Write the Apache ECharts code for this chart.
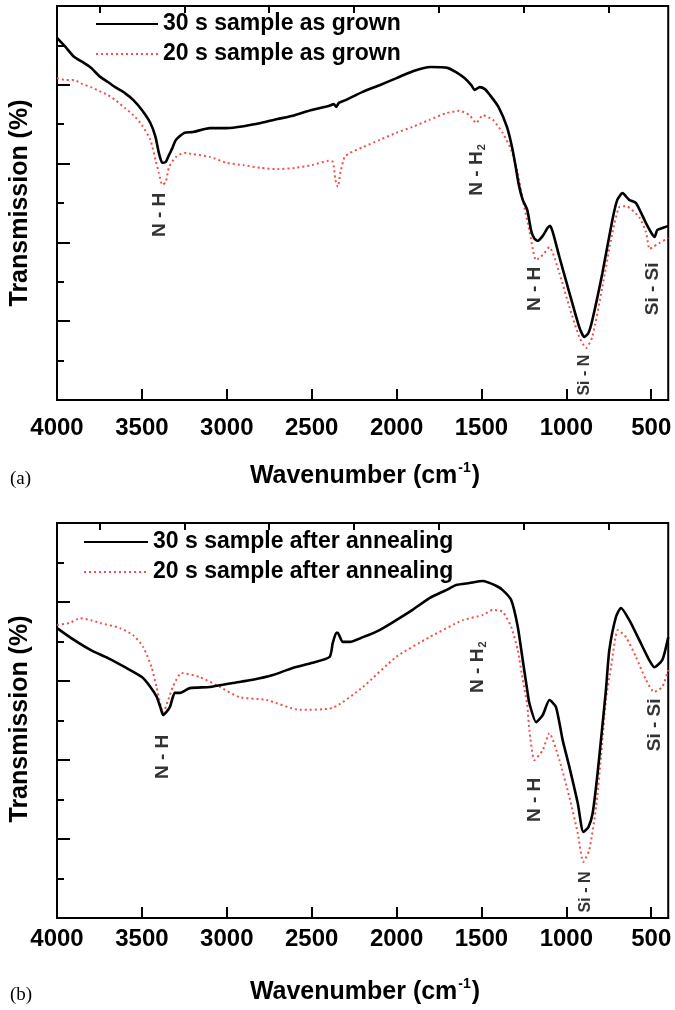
<!DOCTYPE html>
<html>
<head>
<meta charset="utf-8">
<script src="https://cdn.jsdelivr.net/npm/echarts@6/dist/echarts.min.js"></script>
<style>
  html, body { margin: 0; padding: 0; background: #fff; }
  #chart { width: 675px; height: 1010px; }
</style>
</head>
<body>
<div id="chart"></div>
<script>
// FTIR transmission spectra, [wavenumber (cm-1), transmission (a.u. on 0-100 scale)]
const grown30 = [
  [4000, 91.9], [3950, 89.6], [3900, 87.1], [3850, 85.8], [3800, 84.3], [3750, 82.2],
  [3700, 80.7], [3650, 79.2], [3600, 77.9], [3550, 76.1], [3500, 73.6], [3450, 70.3],
  [3420, 66.8], [3400, 62.7], [3380, 60.2], [3360, 60.4], [3340, 62.2], [3320, 64.0],
  [3300, 66.0], [3250, 67.8], [3200, 68.0], [3100, 69.0], [3000, 69.0], [2900, 69.5],
  [2800, 70.3], [2700, 71.3], [2600, 72.3], [2500, 73.6], [2400, 74.6], [2370, 75.1],
  [2355, 74.4], [2340, 75.4], [2300, 76.1], [2200, 78.2], [2100, 79.9], [2000, 81.7],
  [1900, 83.5], [1800, 84.5], [1700, 84.3], [1650, 83.2], [1600, 81.7], [1560, 79.9],
  [1540, 78.7], [1510, 79.4], [1480, 78.9], [1450, 77.4], [1400, 74.4], [1350, 69.3],
  [1320, 64.2], [1300, 59.6], [1280, 54.6], [1257, 50.8], [1230, 48.2], [1208, 43.1],
  [1190, 41.1], [1170, 40.4], [1140, 41.6], [1110, 43.7], [1096, 44.2], [1080, 42.6],
  [1041, 36.3], [982, 27.2], [924, 18.5], [894, 16.0], [870, 17.0], [847, 20.3],
  [788, 32.2], [729, 45.7], [700, 50.8], [669, 52.5], [630, 50.8], [590, 50.0],
  [531, 44.9], [492, 41.9], [480, 41.4], [465, 43.1], [430, 43.7], [400, 44.2]
];
const grown20 = [
  [4000, 81.7], [3950, 81.2], [3900, 81.2], [3850, 80.2], [3800, 79.4], [3750, 78.4],
  [3700, 77.4], [3650, 75.9], [3600, 74.1], [3550, 72.3], [3500, 69.8], [3450, 66.0],
  [3420, 60.9], [3400, 57.6], [3380, 54.6], [3360, 55.3], [3340, 59.1], [3300, 61.7],
  [3250, 62.7], [3200, 62.4], [3100, 61.7], [3000, 60.2], [2900, 59.6], [2800, 58.9],
  [2700, 58.6], [2600, 58.9], [2500, 59.6], [2400, 60.7], [2375, 60.4], [2360, 55.8],
  [2346, 54.1], [2330, 57.9], [2306, 61.7], [2276, 62.7], [2198, 64.2], [2100, 66.0],
  [2002, 67.8], [1906, 69.3], [1806, 71.1], [1708, 72.8], [1629, 73.4], [1571, 72.3],
  [1531, 70.3], [1492, 72.3], [1433, 71.1], [1375, 67.8], [1325, 63.5], [1286, 57.6],
  [1257, 50.8], [1218, 43.1], [1178, 35.5], [1139, 36.8], [1100, 38.8], [1041, 32.2],
  [982, 23.6], [924, 16.0], [884, 13.2], [847, 16.0], [788, 28.7], [729, 42.4],
  [688, 49.0], [649, 49.2], [571, 46.4], [531, 42.6], [510, 38.3], [492, 38.8],
  [453, 39.8], [400, 41.1]
];
const annealed30 = [
  [4000, 73.4], [3900, 70.4], [3800, 67.8], [3700, 65.8], [3600, 63.5], [3500, 61.0],
  [3450, 58.5], [3413, 56.0], [3390, 53.2], [3375, 51.4], [3355, 52.2], [3335, 53.4],
  [3306, 57.0], [3276, 57.0], [3218, 58.2], [3100, 58.5], [2965, 59.5], [2847, 60.3],
  [2729, 61.5], [2612, 63.3], [2494, 64.6], [2394, 66.1], [2376, 69.6], [2355, 72.2],
  [2347, 72.2], [2317, 69.9], [2276, 69.9], [2198, 71.1], [2100, 72.9], [2002, 75.4],
  [1906, 78.0], [1806, 81.0], [1708, 83.0], [1649, 84.3], [1571, 84.8], [1492, 85.3],
  [1414, 84.1], [1375, 83.0], [1325, 80.5], [1286, 73.7], [1257, 65.3], [1228, 57.0],
  [1218, 54.4], [1178, 49.6], [1139, 51.4], [1100, 55.2], [1061, 53.4], [1022, 45.1],
  [982, 38.2], [933, 29.1], [900, 21.8], [870, 23.0], [845, 26.6], [816, 36.7],
  [786, 49.4], [767, 57.7], [747, 67.8], [708, 76.2], [678, 78.5], [629, 75.4],
  [571, 70.4], [512, 65.3], [482, 63.5], [435, 65.3], [400, 71.1]
];
const annealed20 = [
  [4000, 74.2], [3924, 74.7], [3865, 75.9], [3800, 75.4], [3747, 74.7], [3629, 73.4],
  [3551, 71.6], [3492, 68.6], [3443, 63.5], [3414, 58.5], [3390, 53.9], [3375, 51.9],
  [3345, 55.2], [3318, 58.5], [3267, 62.0], [3159, 61.0], [3041, 58.5], [2924, 55.9],
  [2767, 55.2], [2571, 52.7], [2376, 53.2], [2198, 58.5], [2002, 66.1], [1806, 71.1],
  [1610, 75.4], [1492, 76.7], [1433, 78.0], [1375, 77.5], [1325, 73.7], [1286, 67.8],
  [1257, 60.3], [1230, 53.9], [1218, 47.6], [1188, 40.0], [1139, 42.5], [1100, 46.8],
  [1041, 40.0], [982, 30.6], [933, 21.5], [900, 14.2], [865, 17.2], [825, 28.1],
  [796, 40.8], [767, 55.2], [737, 63.5], [696, 72.9], [649, 71.1], [590, 66.1],
  [531, 60.3], [482, 57.2], [435, 58.5], [400, 62.8]
];

// Band assignments: [wavenumber, transmission, label, style]
const bandsGrown = [
  [3394, 47.0, 'N - H', 'n'],
  [1529, 58.4, 'N - H2', 'n'],
  [1188, 28.2, 'N - H', 'n'],
  [894, 6.3, 'Si - N', 's'],
  [494, 28.2, 'Si - Si', 'n']
];
const bandsAnnealed = [
  [3376, 40.8, 'N - H', 'n'],
  [1524, 63.5, 'N - H2', 'n'],
  [1188, 29.9, 'N - H', 'n'],
  [888, 6.6, 'Si - N', 's'],
  [482, 48.9, 'Si - Si', 'n']
];

const majorTicks = [500, 1000, 1500, 2000, 2500, 3000, 3500, 4000];
const minorTicks = [750, 1250, 1750, 2250, 2750, 3250, 3750];

const FONT = '"Liberation Sans", Arial, Helvetica, sans-serif';
const BLACK = '#000';
const RED = '#f05050';

const grids = [
  { left: 57, right: 6, top: 6, height: 394, show: true, borderColor: BLACK, borderWidth: 2 },
  { left: 57, right: 6, top: 523, height: 395, show: true, borderColor: BLACK, borderWidth: 2 }
];

function xAxes(gridIndex, labelMargin) {
  const base = { type: 'value', gridIndex, min: 400, max: 4000, inverse: true, splitLine: { show: false } };
  return [
    Object.assign({}, base, {
      axisLine: { show: true, lineStyle: { color: BLACK, width: 2 } },
      axisTick: { show: true, inside: true, length: 11, customValues: majorTicks, lineStyle: { color: BLACK, width: 2 } },
      axisLabel: {
        show: true, customValues: majorTicks, margin: labelMargin, formatter: v => String(v),
        color: BLACK, fontFamily: FONT, fontWeight: 'bold', fontSize: 24
      }
    }),
    Object.assign({}, base, {
      axisLine: { show: false },
      axisTick: { show: true, inside: true, length: 7, customValues: minorTicks, lineStyle: { color: BLACK, width: 2 } },
      axisLabel: { show: false }
    })
  ];
}

function yAxis(gridIndex) {
  return {
    type: 'value', gridIndex, min: 0, max: 100, interval: 20,
    axisLine: { show: true, lineStyle: { color: BLACK, width: 2 } },
    axisTick: { show: true, inside: true, length: 13, lineStyle: { color: BLACK, width: 2 } },
    minorTick: { show: true, splitNumber: 2, length: 7, lineStyle: { color: BLACK, width: 2 } },
    axisLabel: { show: false },
    splitLine: { show: false }
  };
}

function spectrum(name, data, xIdx, yIdx, dotted) {
  return {
    name, type: 'line', data, xAxisIndex: xIdx, yAxisIndex: yIdx,
    symbol: 'none', smooth: 0.2, silent: true, z: dotted ? 2 : 3,
    lineStyle: dotted ? { color: RED, width: 2, type: [2, 3] } : { color: BLACK, width: 2.6 },
    itemStyle: { color: dotted ? RED : BLACK }
  };
}

function bandLabels(data, xIdx, yIdx) {
  const txt = size => ({
    fontFamily: FONT, fontWeight: 'bold', fontSize: size, color: BLACK,
    textBorderWidth: 0, lineHeight: size + 3
  });
  return {
    type: 'scatter', data, xAxisIndex: xIdx, yAxisIndex: yIdx,
    symbol: 'circle', symbolSize: 2, itemStyle: { color: 'rgba(0,0,0,0)' }, silent: true, z: 5,
    label: {
      show: true, position: 'inside', rotate: 90, color: BLACK, textBorderWidth: 0,
      formatter: p => {
        const t = p.data[2];
        const st = p.data[3];
        if (t === 'N - H2') return '{n|N - H}{sub|2}';
        return '{' + st + '|' + t + '}';
      },
      rich: {
        n: txt(19),
        s: txt(16),
        sub: Object.assign(txt(11), { lineHeight: 22, verticalAlign: 'bottom', padding: [10, 0, 0, 1] })
      }
    },
    labelLayout: { hideOverlap: false }
  };
}

const legendText = { fontFamily: FONT, fontWeight: 'bold', fontSize: 23, color: BLACK, lineHeight: 30 };

const titleStyle = (text, x, y, rotation) => ({
  type: 'text', x, y, rotation: rotation || 0,
  style: { text, fontFamily: FONT, fontWeight: 'bold', fontSize: 25, fill: BLACK, align: 'center', verticalAlign: 'middle' }
});

function xTitle(y) {
  return {
    type: 'text', x: 365, y,
    style: {
      text: '{t|Wavenumber (cm}{sup|-1}{t|)}',
      rich: {
        t: { fontFamily: FONT, fontWeight: 'bold', fontSize: 25, fill: BLACK, lineHeight: 30 },
        sup: { fontFamily: FONT, fontWeight: 'bold', fontSize: 14, fill: BLACK, lineHeight: 30, verticalAlign: 'top', padding: [0, 1, 10, 1] }
      },
      align: 'center', verticalAlign: 'middle'
    }
  };
}

function panelTag(text, y) {
  return {
    type: 'text', x: 10, y,
    style: { text, fontFamily: '"Liberation Serif", "Times New Roman", serif', fontSize: 19, fill: BLACK, verticalAlign: 'middle' }
  };
}

const legendBase = {
  orient: 'vertical', itemHeight: 14, itemGap: 0, padding: 0,
  textStyle: legendText, selectedMode: false,
  itemStyle: { opacity: 0, borderWidth: 0 }
};

const option = {
  animation: false,
  backgroundColor: '#fff',
  grid: grids,
  xAxis: [].concat(xAxes(0, 16), xAxes(1, 9)),
  yAxis: [yAxis(0), yAxis(1)],
  legend: [
    Object.assign({}, legendBase, {
      data: ['30 s sample as grown', '20 s sample as grown'],
      left: 95, top: 9, itemWidth: 62
    }),
    Object.assign({}, legendBase, {
      data: ['30 s sample after annealing', '20 s sample after annealing'],
      left: 83, top: 527, itemWidth: 64
    })
  ],
  series: [
    spectrum('20 s sample as grown', grown20, 0, 0, true),
    spectrum('30 s sample as grown', grown30, 0, 0, false),
    bandLabels(bandsGrown, 0, 0),
    spectrum('20 s sample after annealing', annealed20, 2, 1, true),
    spectrum('30 s sample after annealing', annealed30, 2, 1, false),
    bandLabels(bandsAnnealed, 2, 1)
  ],
  graphic: [
    titleStyle('Transmission (%)', 20, 203, Math.PI / 2),
    titleStyle('Transmission (%)', 20, 719, Math.PI / 2),
    xTitle(476),
    xTitle(992),
    panelTag('(a)', 479),
    panelTag('(b)', 995)
  ]
};

const chart = echarts.init(document.getElementById('chart'), null, { renderer: 'canvas' });
chart.setOption(option);
</script>
</body>
</html>
